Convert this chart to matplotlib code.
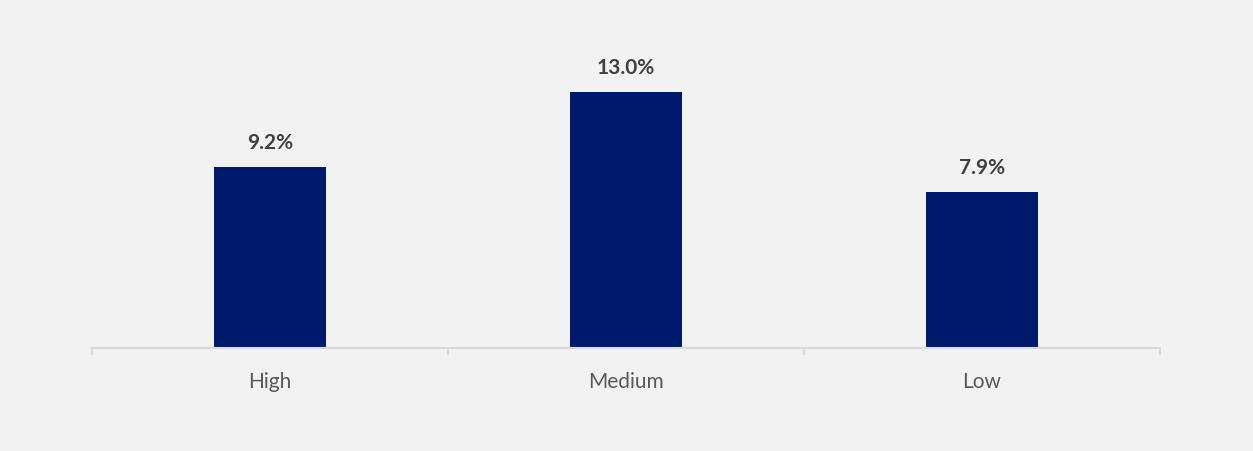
import matplotlib
matplotlib.use("Agg")
import matplotlib.pyplot as plt

categories = ["High", "Medium", "Low"]
values = [9.2, 13.0, 7.9]
value_labels = ["9.2%", "13.0%", "7.9%"]

BG = "#f2f2f2"
BAR = "#001a6b"
W, H = 1253, 451
fig = plt.figure(figsize=(W / 100, H / 100), dpi=100, facecolor=BG)
left, right, bottom, top = 92, 1160, 348, 20
ax = fig.add_axes([left / W, (H - bottom) / H, (right - left) / W, (bottom - top) / H])
ax.set_facecolor(BG)

x = list(range(len(categories)))
ax.bar(x, values, width=0.313, color=BAR, zorder=2)
ax.set_xlim(-0.5, len(categories) - 0.5)
ax.set_ylim(0, (bottom - top) / 19.72)

for xi, v, lab in zip(x, values, value_labels):
    ax.annotate(lab, (xi, v), xytext=(0, 14), textcoords="offset pixels",
                ha="center", va="bottom", fontsize=15, fontweight="bold",
                color="#404040", family=["Lato", "DejaVu Sans"])

for s in ["top", "right", "left"]:
    ax.spines[s].set_visible(False)
ax.spines["bottom"].set_color("#d9d9d9")
ax.spines["bottom"].set_linewidth(1.5)
ax.set_yticks([])
ax.set_xticks([i - 0.5 for i in range(len(categories) + 1)], minor=False)
ax.set_xticklabels([])
ax.tick_params(axis="x", length=5, width=1.5, color="#d9d9d9")
ax.set_xticks(x, minor=True)
ax.set_xticklabels(categories, minor=True, fontsize=15, color="#595959",
                   family=["Lato", "DejaVu Sans"])
ax.tick_params(axis="x", which="minor", length=0, pad=17)

fig.savefig("out.png", dpi=100, facecolor=BG)
